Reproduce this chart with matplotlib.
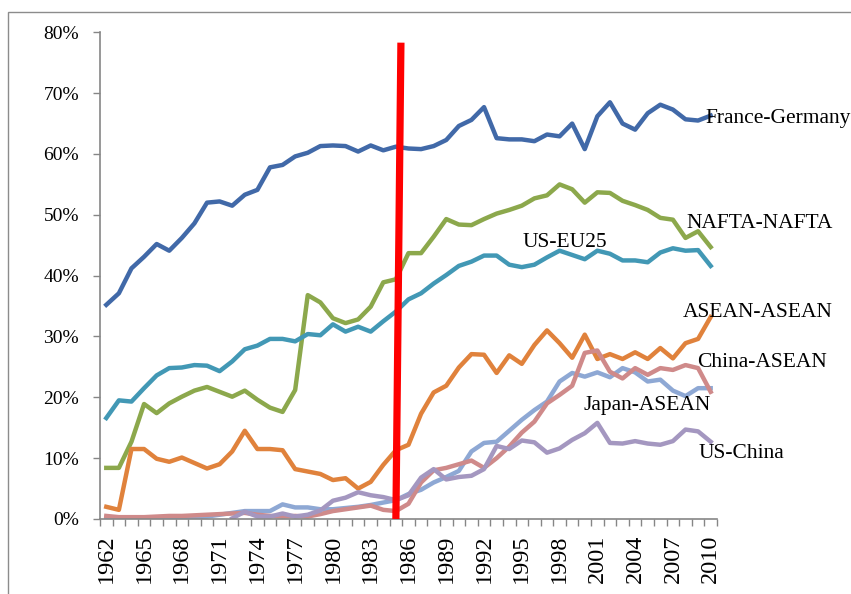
import numpy as np
import matplotlib
matplotlib.use("Agg")
from matplotlib import pyplot as plt
from matplotlib.patches import Rectangle

plt.rcParams['font.family'] = ['Liberation Serif', 'DejaVu Serif']

''' data (share of trade, %) '''
years = list(range(1962, 2011))

france_germany = [35.2, 37.1, 41.2, 43.1, 45.2, 44.1, 46.2, 48.6, 52.0, 52.2,
                  51.5, 53.3, 54.1, 57.8, 58.2, 59.6, 60.2, 61.3, 61.4, 61.3,
                  60.4, 61.4, 60.6, 61.2, 60.9, 60.8, 61.3, 62.3, 64.6, 65.6,
                  67.7, 62.6, 62.4, 62.4, 62.1, 63.2, 62.9, 65.0, 60.8, 66.2,
                  68.5, 65.0, 64.0, 66.7, 68.1, 67.3, 65.7, 65.5, 66.3]
nafta_nafta = [8.4, 8.4, 12.7, 18.9, 17.4, 19.0, 20.1, 21.1, 21.7, 20.9,
               20.1, 21.1, 19.6, 18.3, 17.6, 21.2, 36.8, 35.6, 33.0, 32.2,
               32.8, 34.9, 38.9, 39.4, 43.7, 43.7, 46.4, 49.3, 48.4, 48.3,
               49.3, 50.2, 50.8, 51.5, 52.7, 53.2, 55.0, 54.2, 52.0, 53.7,
               53.6, 52.3, 51.6, 50.8, 49.5, 49.2, 46.2, 47.3, 44.7]
us_eu25 = [16.6, 19.5, 19.3, 21.5, 23.6, 24.8, 24.9, 25.3, 25.2, 24.3,
           25.9, 27.9, 28.5, 29.6, 29.6, 29.2, 30.4, 30.2, 32.0, 30.8,
           31.6, 30.8, 32.5, 34.1, 36.1, 37.1, 38.7, 40.1, 41.6, 42.3,
           43.3, 43.3, 41.8, 41.4, 41.8, 43.0, 44.1, 43.4, 42.7, 44.1,
           43.6, 42.5, 42.5, 42.2, 43.8, 44.5, 44.1, 44.2, 41.6]
asean_asean = [2.0, 1.5, 11.5, 11.5, 9.9, 9.4, 10.1, 9.2, 8.3, 9.0,
               11.1, 14.5, 11.5, 11.5, 11.3, 8.2, 7.8, 7.4, 6.4, 6.7,
               5.0, 6.1, 8.9, 11.3, 12.2, 17.3, 20.8, 21.9, 24.9, 27.1,
               27.0, 24.0, 26.9, 25.5, 28.6, 31.0, 28.9, 26.5, 30.3, 26.3,
               27.1, 26.3, 27.4, 26.3, 28.1, 26.4, 28.9, 29.6, 33.2]
japan_asean = [0.2, 0.2, 0.2, 0.2, 0.2, 0.2, 0.2, 0.3, 0.4, 0.7,
               1.0, 1.3, 1.3, 1.3, 2.4, 1.9, 1.9, 1.6, 1.6, 1.8,
               2.0, 2.3, 2.7, 3.1, 4.1, 4.8, 6.0, 6.9, 7.9, 11.1,
               12.5, 12.7, 14.5, 16.3, 17.9, 19.3, 22.6, 24.0, 23.4, 24.1,
               23.3, 24.8, 24.1, 22.6, 22.9, 21.1, 20.2, 21.5, 21.5]
china_asean = [0.5, 0.3, 0.3, 0.3, 0.4, 0.5, 0.5, 0.6, 0.7, 0.8,
               0.9, 1.0, 0.7, 0.5, 0.4, 0.5, 0.4, 0.8, 1.3, 1.6,
               1.9, 2.2, 1.5, 1.3, 2.5, 6.0, 8.0, 8.4, 9.0, 9.6,
               8.4, 10.0, 11.9, 14.2, 16.0, 19.0, 20.4, 21.9, 27.3, 27.7,
               24.2, 23.1, 24.8, 23.7, 24.8, 24.5, 25.3, 24.8, 20.9]
us_china = [np.nan] * 10 + [0.1, 1.2, 0.4, 0.4, 0.9, 0.4, 0.7, 1.4, 3.0, 3.5,
                            4.4, 3.9, 3.6, 3.1, 3.9, 6.8, 8.2, 6.5, 6.9, 7.1,
                            8.2, 12.0, 11.5, 12.9, 12.6, 10.9, 11.6, 13.0, 14.1, 15.8,
                            12.5, 12.4, 12.8, 12.4, 12.2, 12.8, 14.7, 14.4, 12.7]

series = [
    ("France-Germany", france_germany, "#4169A8", (47.55, 65.8)),
    ("NAFTA-NAFTA", nafta_nafta, "#8CA84C", (46.1, 48.5)),
    ("US-EU25", us_eu25, "#4298B5", (33.1, 45.4)),
    ("ASEAN-ASEAN", asean_asean, "#E0823C", (45.8, 34.0)),
    ("Japan-ASEAN", japan_asean, "#8EA8D4", (37.9, 18.6)),
    ("China-ASEAN", china_asean, "#CF8A8A", (46.9, 25.7)),
    ("US-China", us_china, "#A497C0", (47.0, 10.7)),
]

# red marker line (category index, value %)
red_bottom = (23.0, 0.0)
red_top = (23.4, 78.3)

fig = plt.figure(figsize=(8.51, 5.94), dpi=100)
ax = fig.add_axes([0.1175, 0.1263, 0.725, 0.8193])

x = np.arange(len(years))
for name, vals, col, (lx, ly) in series:
    ax.plot(x, vals, color=col, lw=3.2, solid_joinstyle='round')
    ax.text(lx, ly, name, fontsize=15.5, va='center', ha='left', color='black')

ax.plot([red_bottom[0], red_top[0]], [red_bottom[1], red_top[1]],
        color='#FF0000', lw=5.2, solid_capstyle='butt', clip_on=False, zorder=5)

ax.set_xlim(-0.5, len(years) - 0.5)
ax.set_ylim(0, 80)
ax.set_yticks(np.arange(0, 81, 10))
ax.set_yticklabels(["%d%%" % v for v in range(0, 81, 10)], fontsize=14)

# ticks between categories, labels every 3 years
ax.set_xticks(np.arange(-0.5, len(years), 1.0))
ax.set_xticklabels([])
ax.set_xticks(x[::3], minor=True)
ax.set_xticklabels([str(y) for y in years[::3]], minor=True,
                   rotation=90, fontsize=17.5)
ax.tick_params(axis='x', which='minor', length=0, pad=11)
ax.tick_params(axis='x', which='major', length=5, color='#868686', width=1)
ax.tick_params(axis='y', length=5, color='#868686', width=1, pad=10)

for s in ['top', 'right']:
    ax.spines[s].set_visible(False)
for s in ['left', 'bottom']:
    ax.spines[s].set_color('#868686')
    ax.spines[s].set_linewidth(1.2)

fig.patches.append(Rectangle((8 / 851, -0.2), 1.2, 0.2 + 1 - 12 / 594,
                             transform=fig.transFigure, fill=False,
                             edgecolor='#8C8C8C', lw=1))

fig.savefig("out.png", dpi=100)
